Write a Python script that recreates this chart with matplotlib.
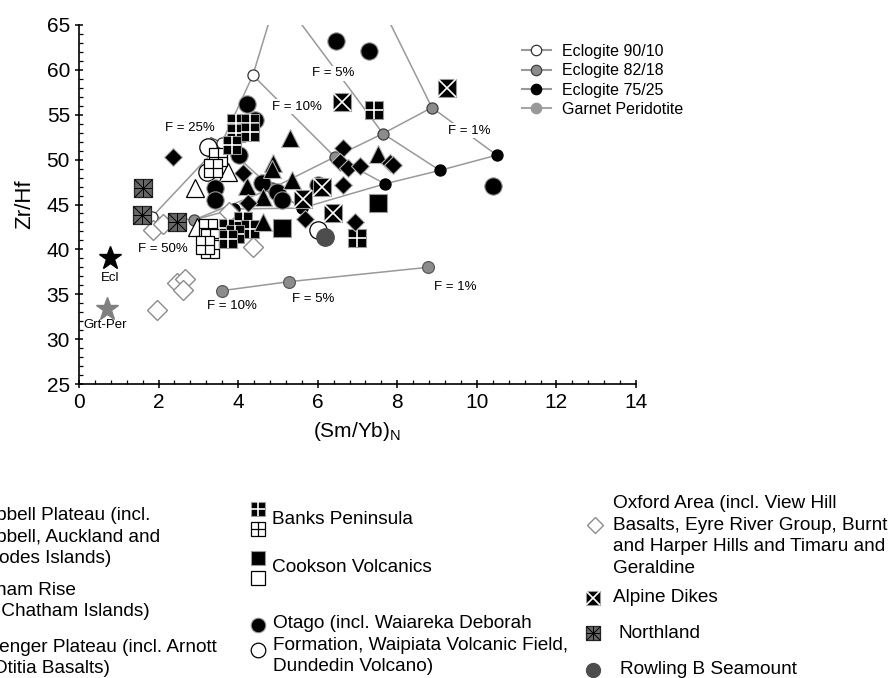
import numpy as np
import matplotlib.pyplot as plt
from matplotlib.lines import Line2D

plt.rcParams['font.family'] = ['Liberation Sans', 'DejaVu Sans']
plt.rcParams['mathtext.default'] = 'regular'

# melting models, points at F = 50, 25, 10, 5, 1 %
ecl90_x = [1.83, 3.59, 4.37, 5.00, 5.92]
ecl90_y = [43.6, 51.9, 59.4, 68.6, 82.2]
ecl82_x = [2.90, 4.85, 6.43, 7.64, 8.87]
ecl82_y = [43.3, 46.8, 50.3, 52.9, 55.8]
ecl75_x = [3.90, 5.60, 7.69, 9.07, 10.50]
ecl75_y = [44.5, 44.6, 47.3, 48.8, 50.5]
# garnet peridotite, F = 10, 5, 1 %
gper_x = [3.59, 5.28, 8.77]
gper_y = [35.4, 36.4, 38.0]

# source compositions
ecl_src = (0.78, 39.0)
grt_src = (0.70, 33.4)

# basalt samples
otago_b_x = [6.46, 7.29, 4.22, 4.42, 4.02, 3.42, 3.42, 4.60, 4.97, 5.10, 6.01, 10.40]
otago_b_y = [63.2, 62.1, 56.2, 54.4, 50.5, 46.8, 45.5, 47.4, 46.4, 45.5, 47.2, 47.1]
otago_w_x = [3.24, 3.22, 6.01]
otago_w_y = [51.4, 48.6, 42.2]
banks_b_x = [3.94, 4.30, 3.94, 4.30, 3.84, 7.41, 3.74, 4.12, 4.30, 3.92, 3.74, 6.98]
banks_b_y = [54.1, 54.1, 53.0, 53.1, 51.6, 55.5, 42.4, 43.2, 42.3, 41.7, 41.2, 41.3]
banks_w_x = [3.49, 3.37, 3.24, 3.29, 3.29, 3.17]
banks_w_y = [50.3, 49.1, 42.4, 41.3, 40.0, 40.5]
cookson_b_x = [5.10, 7.51]
cookson_b_y = [42.4, 45.2]
campbell_b_x = [5.30, 4.22, 4.87, 4.85, 5.35, 7.51, 4.62, 4.62]
campbell_b_y = [52.4, 47.1, 49.6, 48.9, 47.7, 50.6, 43.0, 45.8]
campbell_w_x = [2.91, 3.74, 2.96]
campbell_w_y = [46.8, 48.6, 42.5]
chatham_x = [2.36, 4.12, 4.25, 6.63, 6.56, 6.76, 7.06, 7.81, 7.89, 5.68, 6.63, 6.93]
chatham_y = [50.3, 48.5, 45.2, 51.3, 49.7, 49.1, 49.3, 49.6, 49.4, 43.4, 47.2, 43.0]
alpine_x = [6.61, 9.25, 5.63, 6.11, 6.38]
alpine_y = [56.4, 58.0, 45.6, 46.9, 44.1]
northland_x = [1.61, 1.58, 2.46]
northland_y = [46.8, 43.8, 43.0]
oxford_x = [1.96, 2.46, 2.66, 2.61, 1.86, 2.11, 4.37, 3.77]
oxford_y = [33.3, 36.3, 36.7, 35.5, 42.2, 42.8, 40.3, 44.2]
rowling_x = [6.18]
rowling_y = [41.4]

W, H = 891, 678
fig = plt.figure(figsize=(W / 100, H / 100), dpi=100)
ax = fig.add_axes([79 / W, 1 - 384 / H, (636 - 79) / W, (384 - 25) / H])

LINE = '0.6'


def layers(kind, size):
    """marker layers (drawn in order) for each sample symbol"""
    if kind == 'banks_b':
        return [dict(marker='s', ms=size, mfc='k', mec='0.6', mew=0.8),
                dict(marker='+', ms=size - 1, mec='white', mew=1.2)]
    if kind == 'banks_w':
        return [dict(marker='s', ms=size, mfc='white', mec='k', mew=0.9),
                dict(marker='+', ms=size, mec='k', mew=0.9)]
    if kind == 'cookson_b':
        return [dict(marker='s', ms=size, mfc='k', mec='0.6', mew=0.8)]
    if kind == 'cookson_w':
        return [dict(marker='s', ms=size, mfc='white', mec='k', mew=0.9)]
    if kind == 'otago_b':
        return [dict(marker='o', ms=size, mfc='k', mec='0.6', mew=0.8)]
    if kind == 'otago_w':
        return [dict(marker='o', ms=size, mfc='white', mec='k', mew=0.9)]
    if kind == 'campbell_b':
        return [dict(marker='^', ms=size, mfc='k', mec='0.7', mew=0.8)]
    if kind == 'campbell_w':
        return [dict(marker='^', ms=size, mfc='white', mec='k', mew=0.9)]
    if kind == 'chatham':
        return [dict(marker='D', ms=size, mfc='k', mec='0.7', mew=0.8)]
    if kind == 'alpine':
        return [dict(marker='s', ms=size, mfc='k', mec='0.6', mew=0.8),
                dict(marker='x', ms=size, mec='white', mew=1.2)]
    if kind == 'northland':
        return [dict(marker='s', ms=size, mfc='0.4', mec='0.15', mew=0.9),
                dict(marker='x', ms=size, mec='k', mew=0.7),
                dict(marker='+', ms=size, mec='k', mew=0.7)]
    if kind == 'oxford':
        return [dict(marker='D', ms=size, mfc='white', mec='0.55', mew=1.0)]
    if kind == 'rowling':
        return [dict(marker='o', ms=size, mfc='0.3', mec='0.3')]


def draw(target, xs, ys, kind, size, z, **extra):
    for x, y in zip(xs, ys):
        for kw in layers(kind, size):
            target.plot(x, y, ls='none', zorder=z, **kw, **extra)
        z += 0.01
    return z


# model curves and tie lines of equal F
ecl_models = [(ecl90_x, ecl90_y, 'white', '0.2'),
              (ecl82_x, ecl82_y, '0.55', '0.25'),
              (ecl75_x, ecl75_y, 'k', 'k')]
for xs, ys, fc, ec in ecl_models:
    ax.plot(xs, ys, color=LINE, lw=1.1, zorder=1)
for i in range(len(ecl90_x)):
    ax.plot([ecl90_x[i], ecl82_x[i], ecl75_x[i]],
            [ecl90_y[i], ecl82_y[i], ecl75_y[i]], color=LINE, lw=1.1, zorder=1)
for xs, ys, fc, ec in ecl_models:
    ax.plot(xs, ys, ls='none', marker='o', ms=8, mfc=fc, mec=ec, mew=0.9, zorder=2)
ax.plot(gper_x, gper_y, color=LINE, lw=1.1, marker='o', ms=8.5,
        mfc='0.55', mec='0.35', mew=0.9, zorder=2)

lab = dict(fontsize=9.5, ha='center', va='center', zorder=3)
box = dict(fc='white', ec='none', pad=1)
ax.text(9.80, 53.2, 'F = 1%', bbox=box, **lab)
ax.text(5.48, 55.9, 'F = 10%', bbox=box, **lab)
ax.text(6.38, 59.6, 'F = 5%', bbox=box, **lab)
ax.text(2.11, 40.0, 'F = 50%', **lab)
ax.annotate('F = 25%', xy=(ecl90_x[1], ecl90_y[1]), xytext=(2.79, 53.5),
            arrowprops=dict(arrowstyle='-', color='0.2', lw=0.8, shrinkA=1, shrinkB=3),
            **lab)
ax.text(3.84, 33.7, 'F = 10%', **lab)
ax.text(5.88, 34.5, 'F = 5%', **lab)
ax.text(9.45, 35.8, 'F = 1%', **lab)

# samples
z = 5
z = draw(ax, oxford_x, oxford_y, 'oxford', 10.5, z)
z = draw(ax, northland_x, northland_y, 'northland', 13.5, z)
z = draw(ax, otago_w_x, otago_w_y, 'otago_w', 12.5, z)
z = draw(ax, campbell_w_x, campbell_w_y, 'campbell_w', 13, z)
z = draw(ax, banks_w_x, banks_w_y, 'banks_w', 13.5, z)
z = draw(ax, otago_b_x, otago_b_y, 'otago_b', 12.5, z)
z = draw(ax, banks_b_x, banks_b_y, 'banks_b', 13.5, z)
z = draw(ax, campbell_b_x, campbell_b_y, 'campbell_b', 13, z)
z = draw(ax, chatham_x, chatham_y, 'chatham', 9.5, z)
z = draw(ax, cookson_b_x, cookson_b_y, 'cookson_b', 13.5, z)
z = draw(ax, alpine_x, alpine_y, 'alpine', 13.5, z)
z = draw(ax, rowling_x, rowling_y, 'rowling', 12.5, z)

ax.plot(*ecl_src, marker='*', ms=17, color='k', ls='none', zorder=z)
ax.plot(*grt_src, marker='*', ms=17, color='0.5', ls='none', zorder=z)
ax.text(ecl_src[0], 36.8, 'Ecl', **lab)
ax.text(grt_src[0] - 0.05, 31.6, 'Grt-Per', **lab)

# axes
ax.set_xlim(0, 14)
ax.set_ylim(25, 65)
ax.set_xticks(np.arange(0, 15, 2))
ax.set_xticks(np.arange(0, 14.01, 0.4), minor=True)
ax.set_yticks(np.arange(25, 66, 5))
ax.set_yticks(np.arange(25, 66, 1), minor=True)
ax.tick_params(which='major', direction='inout', length=6, width=1.1, labelsize=15)
ax.tick_params(which='minor', direction='in', length=3, width=0.9)
for s in ['top', 'right']:
    ax.spines[s].set_visible(False)
for s in ['left', 'bottom']:
    ax.spines[s].set_linewidth(1.2)
ax.set_xlabel('(Sm/Yb)$_{N}$', fontsize=15, labelpad=6)
ax.set_ylabel('Zr/Hf', fontsize=16, labelpad=8)

handles = [
    Line2D([], [], color=LINE, marker='o', ms=7.5, mfc='white', mec='0.2', mew=0.9),
    Line2D([], [], color=LINE, marker='o', ms=7.5, mfc='0.55', mec='0.25', mew=0.9),
    Line2D([], [], color=LINE, marker='o', ms=7.5, mfc='k', mec='k', mew=0.9),
    Line2D([], [], color='0.65', marker='o', ms=7.5, mfc='0.6', mec='0.6', mew=0.9),
]
ax.legend(handles, ['Eclogite 90/10', 'Eclogite 82/18', 'Eclogite 75/25', 'Garnet Peridotite'],
          loc='upper left', bbox_to_anchor=(522 / W, 1 - 44 / H),
          bbox_transform=fig.transFigure, frameon=False, fontsize=11.5,
          handlelength=1.8, handletextpad=0.7, labelspacing=0.27,
          borderpad=0, borderaxespad=0)

# symbol key below the plot, laid out in figure pixels
key = fig.add_axes([0, 0, 1, 1], zorder=-1)
key.set_xlim(0, W)
key.set_ylim(H, 0)
key.set_axis_off()
txt = dict(fontsize=13.7, ha='left', va='center', linespacing=1.38)

key.text(-44, 537, 'Campbell Plateau (incl.\nCampbell, Auckland and\nAntipodes Islands)', **txt)
key.text(-44, 601, 'Chatham Rise\n(incl. Chatham Islands)', **txt)
key.text(-44, 658, 'Challenger Plateau (incl. Arnott\nand Otitia Basalts)', **txt)

draw(key, [258], [509], 'banks_b', 10.5, 1, clip_on=False)
draw(key, [258], [529], 'banks_w', 10.5, 1, clip_on=False)
key.text(272, 520, 'Banks Peninsula', **txt)
draw(key, [258], [558], 'cookson_b', 10.5, 1, clip_on=False)
draw(key, [258], [578], 'cookson_w', 10.5, 1, clip_on=False)
key.text(272, 568, 'Cookson Volcanics', **txt)
draw(key, [258], [625], 'otago_b', 10.5, 1, clip_on=False)
draw(key, [258], [650], 'otago_w', 10.5, 1, clip_on=False)
key.text(273, 645, 'Otago (incl. Waiareka Deborah\nFormation, Waipiata Volcanic Field,\nDundedin Volcano)', **txt)

draw(key, [595], [525], 'oxford', 8.5, 1, clip_on=False)
key.text(613, 536, 'Oxford Area (incl. View Hill\nBasalts, Eyre River Group, Burnt\nand Harper Hills and Timaru and\nGeraldine', **txt)
draw(key, [593], [598], 'alpine', 10, 1, clip_on=False)
key.text(613, 598, 'Alpine Dikes', **txt)
draw(key, [593], [633], 'northland', 10, 1, clip_on=False)
key.text(618, 633, 'Northland', **txt)
draw(key, [593], [670], 'rowling', 10, 1, clip_on=False)
key.text(620, 670, 'Rowling B Seamount', **txt)

fig.savefig('out.png', dpi=100)
